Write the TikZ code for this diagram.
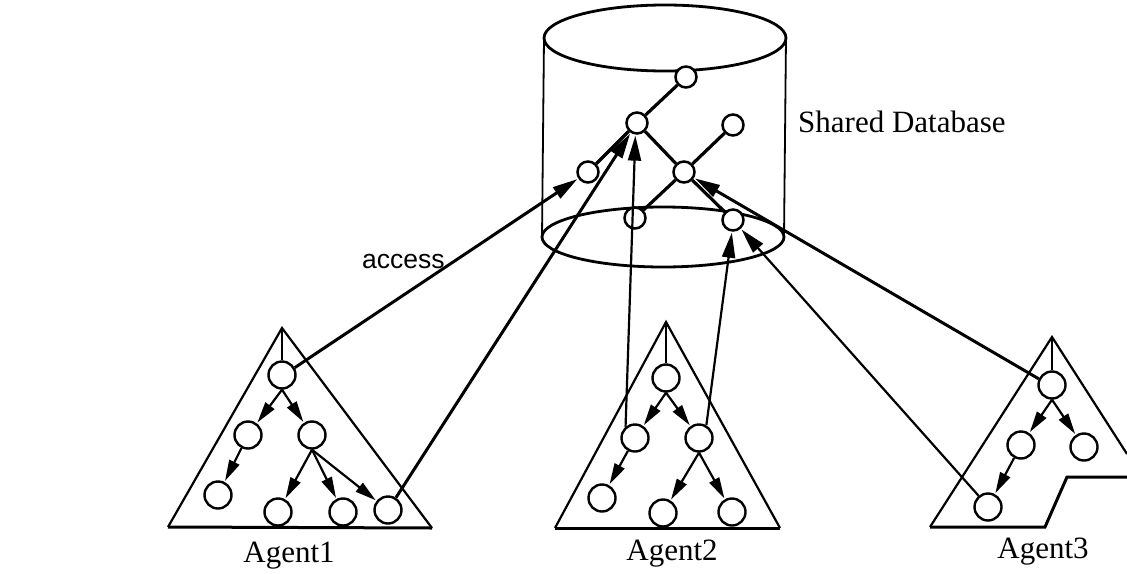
\documentclass[tikz,border=0pt]{standalone}
\usepackage{fontspec}
\setmainfont{Liberation Serif}
\newfontfamily\accfont{Liberation Sans}
\usetikzlibrary{arrows.meta}
\begin{document}
\begin{tikzpicture}[x=1pt,y=-1pt,
  dbn/.style={circle,draw,line width=2.5pt,minimum size=21pt,inner sep=0pt,fill=white},
  agn/.style={circle,draw,line width=2.4pt,minimum size=27pt,inner sep=0pt,fill=white},
  dbe/.style={line width=3.2pt},
  acc/.style={line width=3pt,shorten >=1pt,-{Triangle[length=25pt,width=13pt]}},
  thin acc/.style={line width=2.2pt,shorten >=1pt,-{Triangle[length=25pt,width=13pt]}},
  tre/.style={line width=2.2pt,shorten >=1pt,-{Triangle[length=21pt,width=11pt]}},
  tri/.style={line width=2.2pt,line join=miter},
  trib/.style={line width=3pt},
  cyl/.style={line width=2.8pt},
  cyls/.style={line width=1.8pt},
  lbl/.style={font=\fontsize{31}{36}\selectfont,inner sep=0pt}
]
\useasboundingbox (0,0) rectangle (1127,573);

% cylinder
\draw[cyl] (665,38) ellipse [x radius=121pt, y radius=33pt];
\draw[cyl] (663,237) ellipse [x radius=121pt, y radius=30pt];
\draw[cyls] (544,38) -- (542,237);
\draw[cyls] (786,38) -- (784,237);

% database tree
\node[dbn] (n1) at (686,77) {};
\node[dbn] (n2) at (637,123) {};
\node[dbn] (n3) at (733,125) {};
\node[dbn] (n4) at (588,172) {};
\node[dbn] (n5) at (684,172) {};
\node[dbn] (n6) at (635,218) {};
\node[dbn] (n7) at (733,220) {};
\draw[dbe] (n1) -- (n2);
\draw[dbe] (n2) -- (n4);
\draw[dbe] (n2) -- (n5);
\draw[dbe] (n5) -- (n3);
\draw[dbe] (n5) -- (n6);
\draw[dbe] (n5) -- (n7);

% Agent1
\coordinate (a1top) at (282,328);
\coordinate (a1bl) at (168,527);
\coordinate (a1br) at (432,528);
\draw[tri] (a1bl) -- (a1top) -- (a1br);
\draw[trib] (a1bl) -- (a1br);
\node[agn] (a1r) at (282,375) {};
\node[agn] (a1c1) at (248,435) {};
\node[agn] (a1c2) at (312,435) {};
\node[agn] (a1l1) at (218,495) {};
\node[agn] (a1l2) at (278,512) {};
\node[agn] (a1l3) at (343,512) {};
\node[agn] (a1l4) at (388,510) {};
\draw[line width=1.5pt] (a1top) -- (a1r);
\draw[tre] (a1r.south) -- (a1c1);
\draw[tre] (a1r.south) -- (a1c2);
\draw[tre] (a1c1) -- (a1l1);
\draw[tre] (a1c2.south) -- (a1l2);
\draw[tre] (a1c2.south) -- (a1l3);
\draw[tre] (a1c2.south) -- (a1l4);

% Agent2
\coordinate (a2top) at (666,322);
\coordinate (a2bl) at (555,528);
\coordinate (a2br) at (780,528);
\draw[tri] (a2bl) -- (a2top) -- (a2br);
\draw[trib] (a2bl) -- (a2br);
\node[agn] (a2r) at (666,378) {};
\node[agn] (a2c1) at (635,438) {};
\node[agn] (a2c2) at (699,438) {};
\node[agn] (a2l1) at (602,498) {};
\node[agn] (a2l2) at (663,513) {};
\node[agn] (a2l3) at (732,512) {};
\draw[line width=1.5pt] (a2top) -- (a2r);
\draw[tre] (a2r.south) -- (a2c1);
\draw[tre] (a2r.south) -- (a2c2);
\draw[tre] (a2c1) -- (a2l1);
\draw[tre] (a2c2.south) -- (a2l2);
\draw[tre] (a2c2.south) -- (a2l3);

% Agent3
\coordinate (a3top) at (1052,337);
\coordinate (a3bl) at (930,527);
\coordinate (a3bm) at (1045,527);
\coordinate (a3km) at (1067,477);
\coordinate (a3kr) at (1127,477);
\coordinate (a3rr) at (1127,454);
\draw[tri] (a3rr) -- (a3top) -- (a3bl);
\draw[trib] (a3bl) -- (a3bm) -- (a3km) -- (a3kr);
\node[agn] (a3r) at (1052,385) {};
\node[agn] (a3c1) at (1021,445) {};
\node[agn] (a3c2) at (1084,447) {};
\node[agn] (a3l1) at (988,507) {};
\draw[line width=1.5pt] (a3top) -- (a3r);
\draw[tre] (a3r.south) -- (a3c1);
\draw[tre] (a3r.south) -- (a3c2);
\draw[tre] (a3c1) -- (a3l1);

% access connectors
\draw[acc] (a1r.30) -- (n4);
\draw[acc] (a1l4) -- (n2);
\draw[thin acc] (a2c1.130) -- (n2.262);
\draw[thin acc] (a2c2.60) -- (n7.265);
\draw[acc] (a3r.155) -- (n5);
\draw[thin acc] (a3l1.130) -- (n7);

% labels
\node[lbl,anchor=base west] (sdb) at (798,132) {Shared Database};
\node[inner sep=0pt,font=\accfont\fontsize{26.5}{30}\selectfont,anchor=base west] (acl) at (362,268) {access};
\node[lbl,anchor=base] (lab1) at (289,562) {Agent1};
\node[lbl,anchor=base] (lab2) at (672,560) {Agent2};
\node[lbl,anchor=base] (lab3) at (1043,558) {Agent3};
\end{tikzpicture}
\end{document}
